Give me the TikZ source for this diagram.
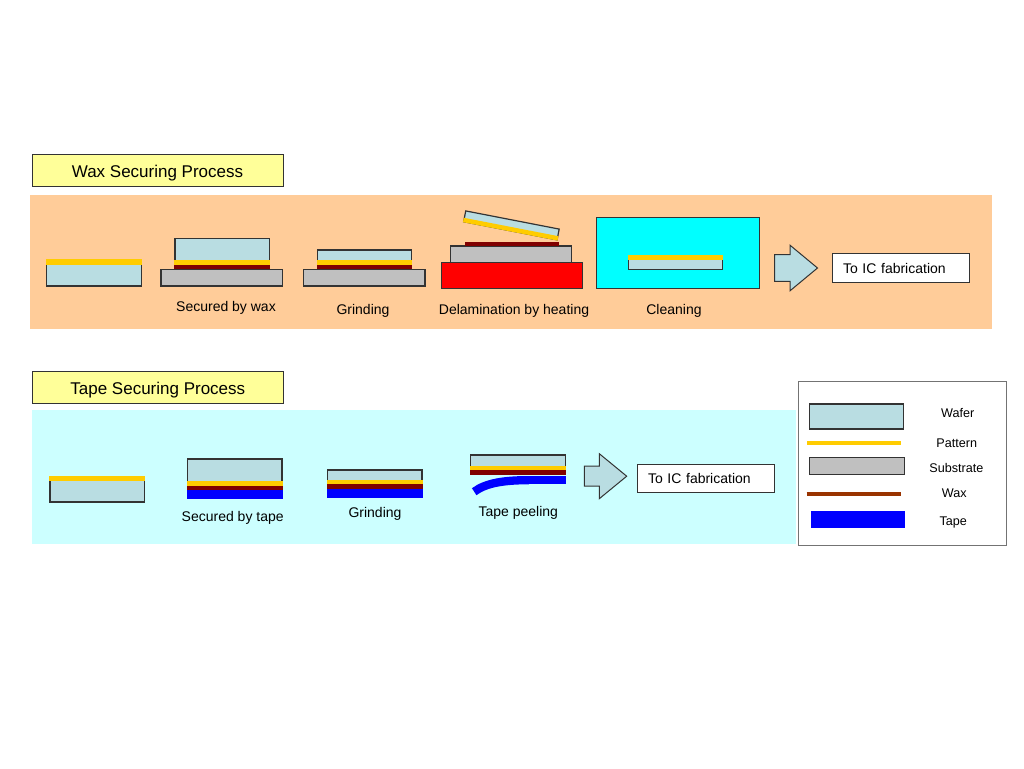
\documentclass[tikz,border=0pt]{standalone}
\usepackage{fontspec}
\setmainfont{Liberation Sans}
\usetikzlibrary{positioning}
\definecolor{waferblue}{RGB}{185,221,226}
\definecolor{patternyellow}{RGB}{255,204,0}
\definecolor{waxred}{RGB}{128,0,0}
\definecolor{waxbrown}{RGB}{153,51,0}
\definecolor{substrategray}{RGB}{192,192,192}
\definecolor{tapeblue}{RGB}{0,0,255}
\definecolor{heaterred}{RGB}{255,0,0}
\definecolor{bathcyan}{RGB}{0,255,255}
\definecolor{waxpanel}{RGB}{255,204,153}
\definecolor{tapepanel}{RGB}{204,255,255}
\definecolor{titleyellow}{RGB}{255,255,153}
\tikzset{
  proc title/.style={rectangle, draw=black!80, fill=titleyellow, line width=1pt, minimum width=251, minimum height=31.6, text height=15pt, text depth=1pt, font=\fontsize{17}{20}\selectfont},
  proc label/.style={inner sep=0pt, text height=0.7em, text depth=0.2em, yshift=-2.5pt, font=\fontsize{14}{16}\selectfont},
  proc legend label/.style={inner sep=0pt, text height=0.7em, text depth=0.2em, yshift=-2.8pt, font=\fontsize{12.6}{15}\selectfont},
  proc fab/.style={rectangle, draw=black!80, fill=white, line width=1pt, minimum height=28.4, text width=115, inner xsep=11, align=left, font=\fontsize{14}{16}\selectfont},
  proc wafer/.style={draw=black!80, fill=waferblue, line width=1.2pt},
  proc substrate/.style={draw=black!80, fill=substrategray, line width=1.2pt},
  proc pattern/.style={fill=patternyellow},
  proc wax/.style={fill=waxred},
  proc tape/.style={fill=tapeblue},
  proc heater/.style={draw=black!80, fill=heaterred, line width=1.2pt},
  proc bath/.style={draw=black!80, fill=bathcyan, line width=1.2pt},
  proc arrow/.style={draw=black!80, fill=waferblue, line width=1pt, line join=miter}
}
\begin{document}
\begin{tikzpicture}[x=1pt, y=-1pt]
    \useasboundingbox (0,0) rectangle (1024,768);

    % Wax securing process
    \node [proc title] (waxtitle) at (157.5,170.2) {Wax Securing Process};
    \fill [waxpanel] (30,195) rectangle (992.3,329.3);
    % patterned wafer
    \draw [proc wafer] (46.7,260) rectangle (141.3,286);
    \fill [proc pattern] (46.1,259.4) rectangle (141.9,264.5);
    % secured by wax
    \draw [proc substrate] (161,269.3) rectangle (282.3,286);
    \draw [proc wafer] (175,238.3) rectangle (269.3,265);
    \fill [proc pattern] (174.4,260) rectangle (269.9,265);
    \fill [proc wax] (174.4,265) rectangle (269.9,269.3);
    \node [proc label] (waxsecured) at (226,306.7) {Secured by wax};
    % grinding
    \draw [proc substrate] (303.3,269.3) rectangle (425,286);
    \draw [proc wafer] (317.3,250) rectangle (411.7,265);
    \fill [proc pattern] (316.7,260) rectangle (412.3,265);
    \fill [proc wax] (316.7,265) rectangle (412.3,269.3);
    \node [proc label] (waxgrind) at (363,309) {Grinding};
    % delamination by heating
    \draw [proc heater] (441.4,262.3) rectangle (582.5,288.3);
    \draw [proc substrate] (450.7,246) rectangle (571.8,262.3);
    \fill [proc wax] (464.6,241.7) rectangle (558.6,246);
    \begin{scope}[shift={(511.4,225.4)}, rotate=-11]
      \draw [proc wafer] (-47.6,-5.5) rectangle (47.6,5.5);
      \fill [proc pattern] (-48.2,1.6) rectangle (48.2,6.1);
    \end{scope}
    \node [proc label] (waxdelam) at (514,309) {Delamination by heating};
    % cleaning
    \draw [proc bath] (596.8,217.3) rectangle (759.3,288.3);
    \draw [proc wafer] (628.2,256) rectangle (722.1,269.3);
    \fill [proc pattern] (627.6,255.4) rectangle (722.7,260.3);
    \node [proc label] (waxclean) at (674,309) {Cleaning};
    % to IC fabrication
    \draw [proc arrow] (774.6,254.7) -- (790,254.7) -- (790,245.2) -- (817.5,268)
      -- (790,290.8) -- (790,281.3) -- (774.6,281.3) -- cycle;
    \node [proc fab] (waxfab) at (900.5,268) {To IC fabrication};

    % Tape securing process
    \node [proc title] (tapetitle) at (157.8,387.5) {Tape Securing Process};
    \fill [tapepanel] (32,410) rectangle (795.7,544.3);
    % patterned wafer
    \draw [proc wafer] (50,476.7) rectangle (144.3,502);
    \fill [proc pattern] (49.4,476.1) rectangle (144.9,480.7);
    % secured by tape
    \draw [proc wafer] (187.3,459) rectangle (282,485.7);
    \fill [proc pattern] (186.7,481) rectangle (282.6,485.7);
    \fill [proc wax] (186.7,485.7) rectangle (282.6,490);
    \fill [proc tape] (186.7,490) rectangle (282.6,499.3);
    \node [proc label] (tapesecured) at (232.7,516.7) {Secured by tape};
    % grinding
    \draw [proc wafer] (327.3,470) rectangle (422,484.3);
    \fill [proc pattern] (326.7,480) rectangle (422.6,484.3);
    \fill [proc wax] (326.7,484.3) rectangle (422.6,489);
    \fill [proc tape] (326.7,489) rectangle (422.6,498);
    \node [proc label] (tapegrind) at (375,512.7) {Grinding};
    % tape peeling
    \draw [proc wafer] (470.7,455) rectangle (565.3,470.3);
    \fill [proc pattern] (470.1,466) rectangle (565.9,470.3);
    \fill [proc wax] (470.1,470.3) rectangle (565.9,475);
    \fill [proc tape] (528.3,476) rectangle (566,484.3);
    \draw [tapeblue, line width=8.3pt] (528.8,480.15) .. controls (505,480.15) and (486.2,482.7) .. (474.2,491.7);
    \node [proc label] (tapepeel) at (518.3,511.7) {Tape peeling};
    % to IC fabrication
    \draw [proc arrow] (584.3,466.2) -- (599.3,466.2) -- (599.3,453.7) -- (626.7,476.2)
      -- (599.3,498.7) -- (599.3,486.2) -- (584.3,486.2) -- cycle;
    \node [proc fab] (tapefab) at (705.5,478.5) {To IC fabrication};

    % Legend
    \draw [draw=black!55, fill=white, line width=1.3pt] (798.3,381.5) rectangle (1006.3,545.8);
    \draw [proc wafer] (809.3,404) rectangle (903.7,429);
    \draw [patternyellow, line width=4.3pt] (807.3,443) -- (901,443);
    \draw [proc substrate] (809.7,457.3) rectangle (904.3,474.7);
    \draw [waxbrown, line width=4pt] (806.7,493.7) -- (900.7,493.7);
    \fill [proc tape] (811,511.3) rectangle (905,528);
    \node [proc legend label] (lgwafer) at (957.7,412.3) {Wafer};
    \node [proc legend label] (lgpattern) at (956.7,442.3) {Pattern};
    \node [proc legend label] (lgsubstrate) at (956.3,467.3) {Substrate};
    \node [proc legend label] (lgwax) at (954.3,492.3) {Wax};
    \node [proc legend label] (lgtape) at (953.3,519.7) {Tape};
\end{tikzpicture}
\end{document}
